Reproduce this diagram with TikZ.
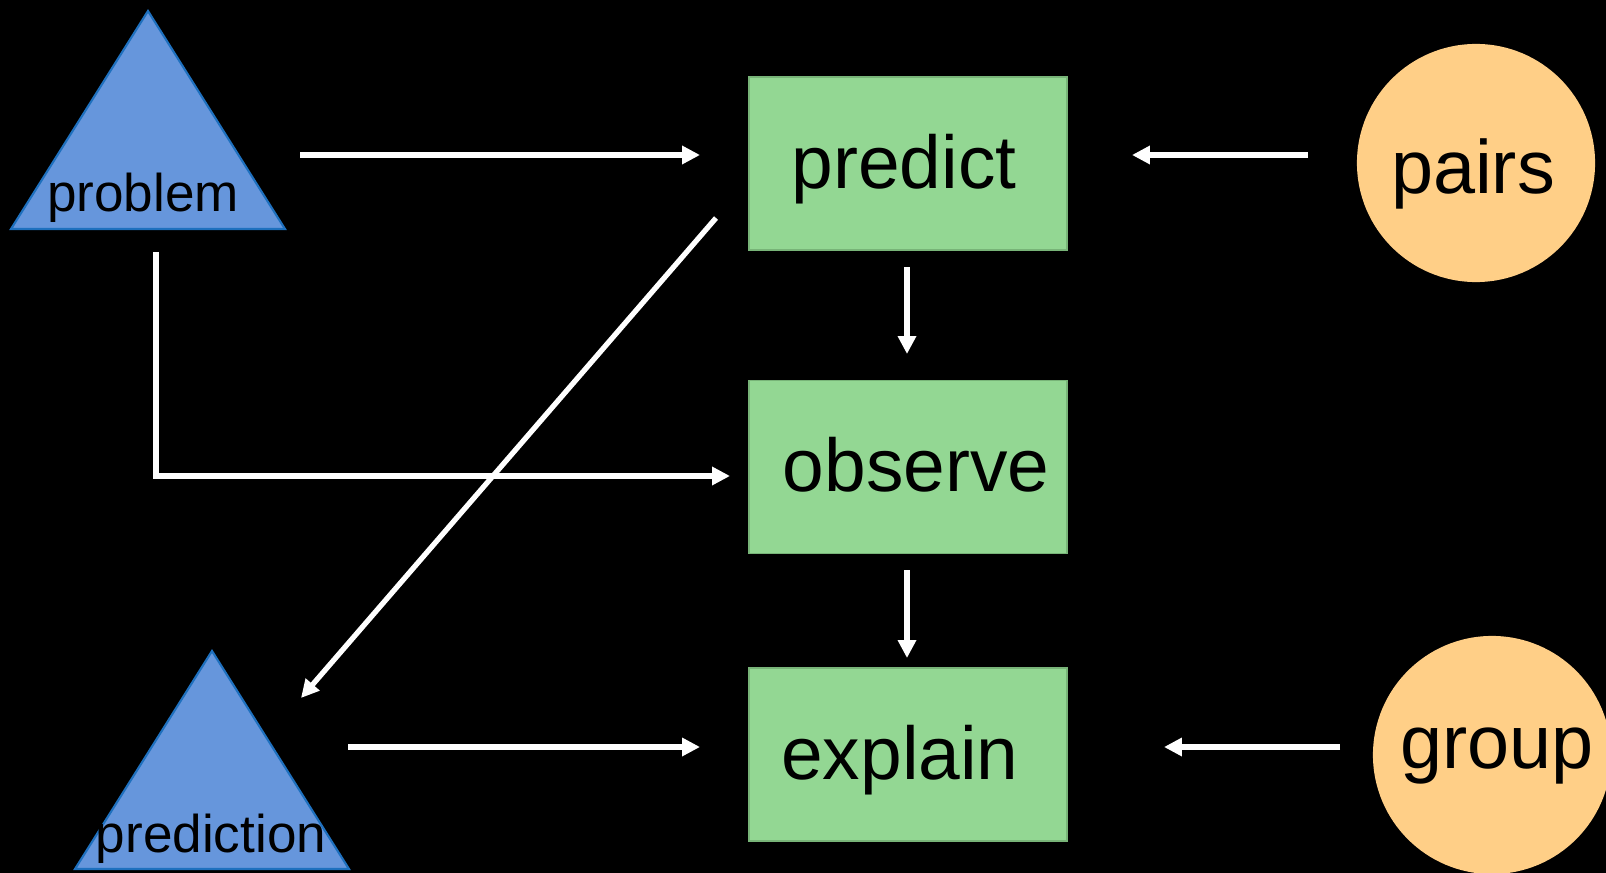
\documentclass[tikz,border=0pt]{standalone}
\usepackage{fontspec}
\setmainfont{Liberation Sans}
\usetikzlibrary{arrows.meta}

\definecolor{triblue}{RGB}{102,150,220}
\definecolor{triedge}{RGB}{30,112,190}
\definecolor{stepgreen}{RGB}{147,215,147}
\definecolor{stepedge}{RGB}{120,180,120}
\definecolor{ringorange}{RGB}{255,207,135}

\tikzset{
  flowarrow/.style={draw=white, line width=1.5pt,
    -{Triangle[length=5.1pt,width=5pt]}},
  stepbox/.style={rectangle, draw=stepedge, line width=0.4pt, fill=stepgreen,
    minimum width=3.18cm, minimum height=1.73cm, inner sep=0pt,
    font=\fontsize{21.3pt}{24pt}\selectfont, text=black,
    text height=0.49cm, text depth=0pt},
  ringshape/.style={circle, fill=ringorange, minimum size=2.38cm, inner sep=0pt},
  ringtext/.style={anchor=base, inner sep=0pt,
    font=\fontsize{21.5pt}{25pt}\selectfont, text=black},
  tritext/.style={anchor=base, inner sep=0pt,
    font=\fontsize{15.1pt}{18pt}\selectfont, text=black},
  trishape/.style={fill=triblue, draw=triedge, line width=0.6pt, line join=miter}
}

\begin{document}
\begin{tikzpicture}[x=0.01cm, y=-0.01cm]
  \useasboundingbox (0,0) rectangle (1606,873);
  \fill[black] (0,0) rectangle (1606,873);
  \clip (0,0) rectangle (1606,873);

  % triangles
  \draw[trishape] (148,11) -- (285,229) -- (11,229) -- cycle;
  \node[tritext] (problem) at (143,212) {problem};
  \draw[trishape] (212,651) -- (349,869) -- (75,869) -- cycle;
  \node[tritext] (prediction) at (211,852) {prediction};

  % steps
  \node[stepbox] (predict) at (908,163.5) {predict\kern0.08cm};
  \node[stepbox] (observe) at (908,467) {\kern0.16cm observe};
  \node[stepbox] (explain) at (908,754.5) {explain\kern0.16cm};

  % circles
  \node[ringshape] (pairs) at (1476,163) {};
  \node[ringtext] (pairstext) at (1473,193) {pairs};
  \node[ringshape] (group) at (1492,755) {};
  \node[ringtext] (grouptext) at (1497,768) {group};

  % connector end points
  \coordinate (a1s) at (300,155);   \coordinate (a1e) at (700,155);
  \coordinate (a2s) at (1308,155);  \coordinate (a2e) at (1132,155);
  \coordinate (a3s) at (907,267);   \coordinate (a3e) at (907,354);
  \coordinate (a4s) at (907,570);   \coordinate (a4e) at (907,658);
  \coordinate (a5s) at (156,252);   \coordinate (a5c) at (156,476);
  \coordinate (a5e) at (730,476);
  \coordinate (a6s) at (716,218);   \coordinate (a6e) at (301,698);
  \coordinate (a7s) at (348,747);   \coordinate (a7e) at (700,747);
  \coordinate (a8s) at (1340,747);  \coordinate (a8e) at (1164,747);

  % connectors
  \draw[flowarrow] (a1s) -- (a1e);
  \draw[flowarrow] (a2s) -- (a2e);
  \draw[flowarrow] (a3s) -- (a3e);
  \draw[flowarrow] (a4s) -- (a4e);
  \draw[flowarrow, line join=miter] (a5s) -- (a5c) -- (a5e);
  \draw[flowarrow] (a6s) -- (a6e);
  \draw[flowarrow] (a7s) -- (a7e);
  \draw[flowarrow] (a8s) -- (a8e);
\end{tikzpicture}
\end{document}
